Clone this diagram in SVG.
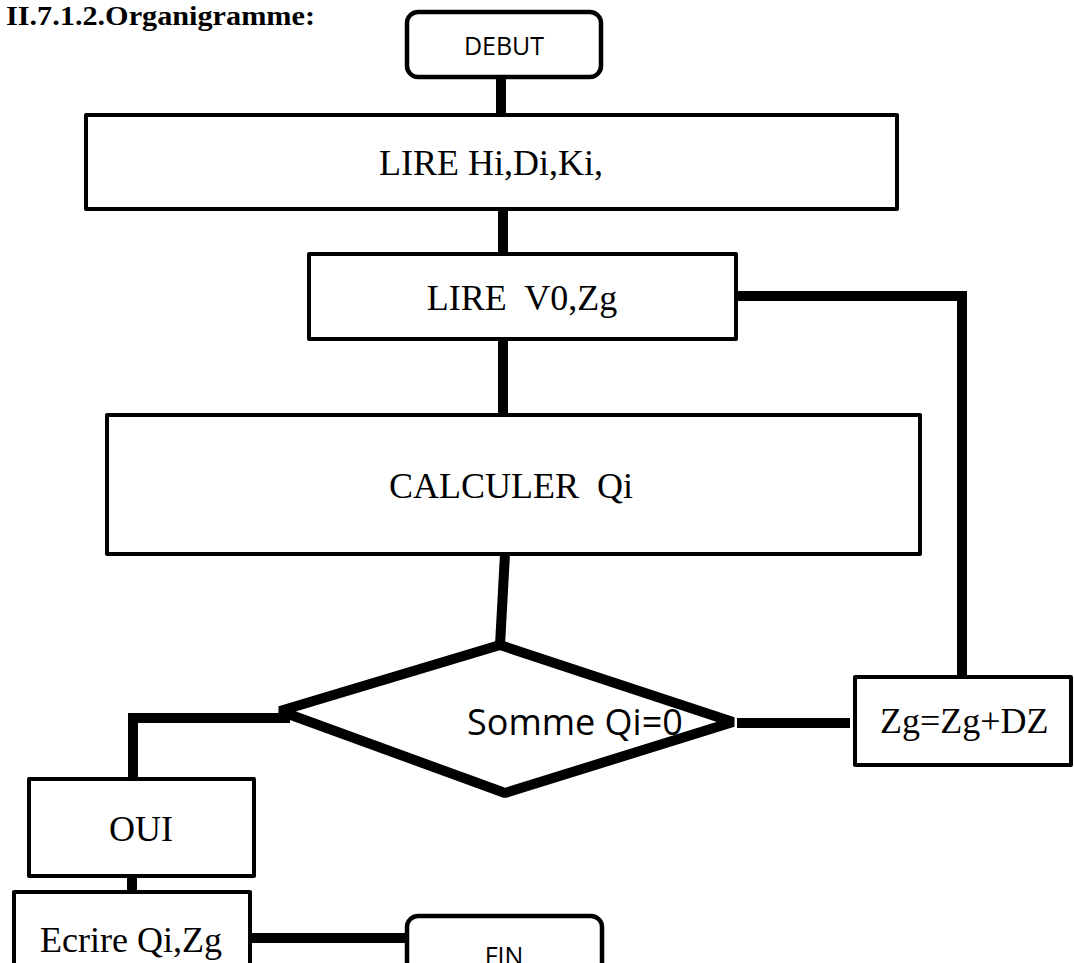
<svg xmlns="http://www.w3.org/2000/svg" width="1074" height="963" viewBox="0 0 1074 963">
<style>
.box{fill:#fff;stroke:#000;stroke-width:4;stroke-linejoin:round}
.term{fill:#fff;stroke:#000;stroke-width:4.5}
.conn{fill:none;stroke:#000;stroke-width:10;stroke-linecap:butt;stroke-linejoin:miter}
.serif{font-family:"Liberation Serif","Times New Roman",serif;font-size:36px;fill:#000}
.sans{font-family:"Open Sans","Noto Sans",sans-serif;fill:#000}
</style>
<rect width="1074" height="963" fill="#fff"/>
<text x="6" y="25" font-family="Liberation Serif, serif" font-weight="bold" font-size="28" textLength="309" lengthAdjust="spacingAndGlyphs">II.7.1.2.Organigramme:</text>
<g id="connectors">
<line class="conn" x1="501" y1="77" x2="501" y2="124"/>
<line class="conn" x1="503" y1="209" x2="503" y2="254"/>
<line class="conn" x1="503" y1="339" x2="503" y2="415"/>
<line class="conn" x1="505" y1="554" x2="500" y2="645"/>
<polyline class="conn" points="736,296 962,296 962,677"/>
<line class="conn" x1="737" y1="723" x2="850" y2="723"/>
<polyline class="conn" points="290,718 133,718 133,779"/>
<line class="conn" x1="132" y1="876" x2="132" y2="892"/>
<line class="conn" x1="248" y1="938" x2="407" y2="938"/>
</g>
<g id="debut">
<rect class="term" x="407" y="12" width="194" height="65" rx="11"/>
<text class="sans" x="504" y="55" font-size="25" text-anchor="middle">DEBUT</text>
</g>
<g id="lire1">
<rect class="box" x="86" y="115" width="811" height="94"/>
<text class="serif" x="491" y="175" text-anchor="middle">LIRE Hi,Di,Ki,</text>
</g>
<g id="lire2">
<rect class="box" x="309" y="254" width="427" height="85"/>
<text class="serif" x="522" y="310" text-anchor="middle" xml:space="preserve">LIRE  V0,Zg</text>
</g>
<g id="calculer">
<rect class="box" x="107" y="415" width="813" height="139"/>
<text class="serif" x="511" y="498" text-anchor="middle" xml:space="preserve">CALCULER  Qi</text>
</g>
<g id="decision">
<polygon points="280,711 500,645 733,722 505,793" fill="#fff" stroke="#000" stroke-width="10" stroke-linejoin="bevel"/>
<text class="sans" x="467" y="735" font-size="36">Somme Qi=0</text>
</g>
<g id="increment">
<rect class="box" x="855" y="677" width="216" height="88"/>
<text class="serif" x="880" y="733">Zg=Zg+DZ</text>
</g>
<g id="oui">
<rect class="box" x="29" y="779" width="225" height="97"/>
<text class="serif" x="141" y="841" text-anchor="middle">OUI</text>
</g>
<g id="ecrire">
<rect class="box" x="14" y="892" width="236" height="90"/>
<text class="serif" x="40" y="952">Ecrire Qi,Zg</text>
</g>
<g id="fin">
<rect class="term" x="407" y="916" width="195" height="70" rx="11"/>
<text class="sans" x="504" y="965" font-size="25" text-anchor="middle">FIN</text>
</g>
</svg>
